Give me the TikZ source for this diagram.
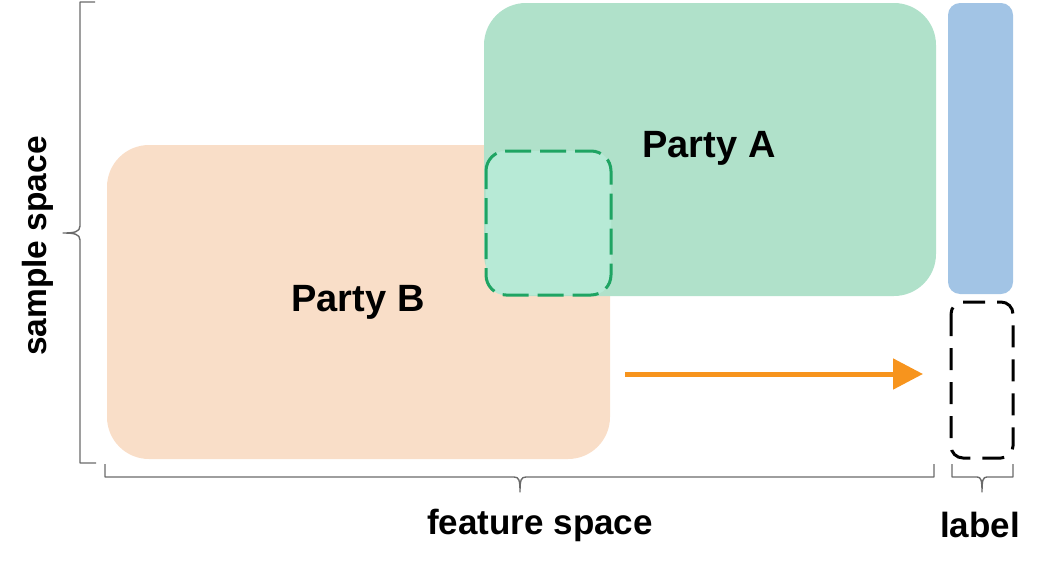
\documentclass[tikz,border=0pt]{standalone}
\usepackage{fontspec}
\setmainfont{Liberation Sans}
\usetikzlibrary{arrows.meta}
\definecolor{greenA}{HTML}{B0E1CA}
\definecolor{peachB}{HTML}{F9DEC8}
\definecolor{overlapC}{HTML}{B7EAD6}
\definecolor{dashG}{HTML}{1FA463}
\definecolor{blueL}{HTML}{A2C4E5}
\definecolor{arrowO}{HTML}{F7941D}
\definecolor{braceG}{HTML}{6A6A6A}
\tikzset{
  lbl/.style={font=\bfseries\fontsize{35}{35}\selectfont, text=black, inner sep=0pt},
  partylbl/.style={font=\bfseries\fontsize{38}{38}\selectfont, text=black, inner sep=0pt},
  bracepath/.style={draw=braceG, line width=1.4pt, line join=round},
}
\begin{document}
\begin{tikzpicture}[x=1pt,y=-1pt]
\useasboundingbox (0,0) rectangle (1044,570);
% Party B
\fill[peachB, rounded corners=42pt] (107,145) rectangle (610,459);
% Party A
\fill[greenA, rounded corners=42pt] (484,3) rectangle (936,296);
% overlap
\draw[overlapC, fill=overlapC, rounded corners=20pt] (486,151) rectangle (611,295);
\draw[dashG, line width=3pt, dash pattern=on 26pt off 9pt, dash phase=8pt, rounded corners=20pt] (486,151) rectangle (611,295);
% label boxes
\fill[blueL, rounded corners=12pt] (948,3) rectangle (1013,294);
\draw[black, line width=3pt, dash pattern=on 22pt off 12pt, rounded corners=12pt] (951,302) rectangle (1013,458);
% texts
\node[partylbl] (pa) at (709,148) {Party A};
\node[partylbl] (pb) at (358,302) {Party B};
\node[lbl, font=\bfseries\fontsize{33.5}{33.5}\selectfont, rotate=90] (ss) at (38,246) {sample space};
\node[lbl] (fs) at (540,525) {feature space};
\node[lbl] (lb) at (980,525) {label};
% arrow
\coordinate (as) at (625,374);
\coordinate (ae) at (923,374);
\draw[arrowO, line width=5pt, -{Triangle[length=30pt,width=30pt]}] (as) -- (ae);
% left brace
\draw[bracepath] (95,2) -- (80,2) -- (80,226) .. controls (80,232) and (74,233) .. (63,233)
  .. controls (74,233) and (80,234) .. (80,240) -- (80,463) -- (96,463);
% bottom brace
\draw[bracepath] (105,464) -- (105,477) -- (514,477) .. controls (519,477) and (520,480) .. (520,492)
  .. controls (520,480) and (521,477) .. (526,477) -- (934,477) -- (934,464);
% label brace
\draw[bracepath] (952,464) -- (952,477) -- (977,477) .. controls (981,477) and (982,480) .. (982,492)
  .. controls (982,480) and (983,477) .. (987,477) -- (1013,477) -- (1013,464);
\end{tikzpicture}
\end{document}
